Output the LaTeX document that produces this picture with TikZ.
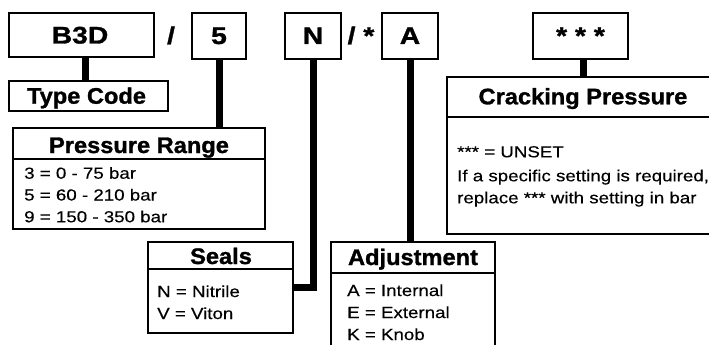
\documentclass[tikz,border=0pt]{standalone}
\usepackage{fontspec}
\setmainfont{Liberation Sans}
\newfontfamily\hfont[FakeStretch=1.05,BoldFeatures={FakeBold=1.2}]{Liberation Sans}
\newfontfamily\bfont[FakeStretch=1.17,FakeBold=0.3]{Liberation Sans}
\newfontfamily\cfont[FakeStretch=1.18,BoldFeatures={FakeBold=1.2}]{Liberation Sans}
\begin{document}
\begin{tikzpicture}[x=1pt,y=-1pt,
  box/.style={draw=black, fill=white, line width=2pt, inner sep=0pt, rectangle},
  codetext/.style={font=\cfont\bfseries\fontsize{24}{28}\selectfont, inner sep=0pt, anchor=base},
  headtext/.style={font=\hfont\bfseries\fontsize{22.5}{26}\selectfont, inner sep=0pt, anchor=base},
  bodytext/.style={font=\bfont\fontsize{16}{19}\selectfont, inner sep=0pt, anchor=base west},
  conn/.style={draw=black, line width=7pt, line join=miter, line cap=butt}]
\useasboundingbox (0,0) rectangle (709,345);
\clip (0,0) rectangle (709,345);

% code boxes
\node[box, minimum width=145, minimum height=44] (b3d) at (81.5,35) {};
\node[box, minimum width=54, minimum height=46] (five) at (219,36) {};
\node[box, minimum width=56, minimum height=46] (nbox) at (313,36) {};
\node[box, minimum width=56, minimum height=46] (abox) at (410,36) {};
\node[box, minimum width=95, minimum height=46] (sbox) at (580.5,36) {};

\node[codetext] (tb3d) at (80,43.5) {B3D};
\node[codetext] (tfive) at (219,44) {5};
\node[codetext] (tn) at (313,44) {N};
\node[codetext] (ta) at (410,44) {A};
\node[codetext] (ts) at (580.5,44) {* * *};
\node[codetext] (sl1) at (171,44) {/};
\node[codetext] (sl2) at (361,44) {/ *};

% category boxes
\node[box, minimum width=159, minimum height=30] (typecode) at (88.5,96) {};
\node[box, minimum width=252, minimum height=31] (prhead) at (139,143.5) {};
\node[box, minimum width=252, minimum height=70] (prbody) at (139,194) {};
\node[box, minimum width=145, minimum height=27] (sealhead) at (220.5,255.5) {};
\node[box, minimum width=145, minimum height=64] (sealbody) at (220.5,301) {};
\node[box, minimum width=164, minimum height=31] (adjhead) at (413,257.5) {};
\node[box, minimum width=164, minimum height=87] (adjbody) at (413,316.5) {};
\node[box, minimum width=272, minimum height=40] (cphead) at (583,97) {};
\node[box, minimum width=272, minimum height=117] (cpbody) at (583,175.5) {};

% headers
\node[headtext] (ttc) at (86.5,103.7) {Type Code};
\node[headtext] (tpr) at (139,153) {Pressure Range};
\node[headtext] (tse) at (221,264) {Seals};
\node[headtext] (tad) at (413,265) {Adjustment};
\node[headtext] (tcp) at (583,104.3) {Cracking Pressure};

% bodies
\node[bodytext] (pr1) at (24,178.7) {3 = 0 - 75 bar};
\node[bodytext] (pr2) at (24,200.5) {5 = 60 - 210 bar};
\node[bodytext] (pr3) at (24,222.3) {9 = 150 - 350 bar};
\node[bodytext] (se1) at (157,297) {N = Nitrile};
\node[bodytext] (se2) at (157,319) {V = Viton};
\node[bodytext] (ad1) at (347,296) {A = Internal};
\node[bodytext] (ad2) at (347,318) {E = External};
\node[bodytext] (ad3) at (347,340) {K = Knob};
\node[bodytext] (cp1) at (457,157.3) {*** = UNSET};
\node[bodytext] (cp2) at (457,181.3) {If a specific setting is required,};
\node[bodytext] (cp3) at (457,203.3) {replace *** with setting in bar};

% connectors
\draw[conn] ([xshift=3.5pt]b3d.south) -- ([xshift=-3.5pt]typecode.north);
\draw[conn] (five.south) -- (prhead.north -| five.south);
\draw[conn] (nbox.south) |- ([yshift=14pt]sealbody.east);
\draw[conn] (abox.south) -- (adjhead.north -| abox.south);
\draw[conn] (cphead.north |- sbox.south) -- (cphead.north);
\end{tikzpicture}
\end{document}
